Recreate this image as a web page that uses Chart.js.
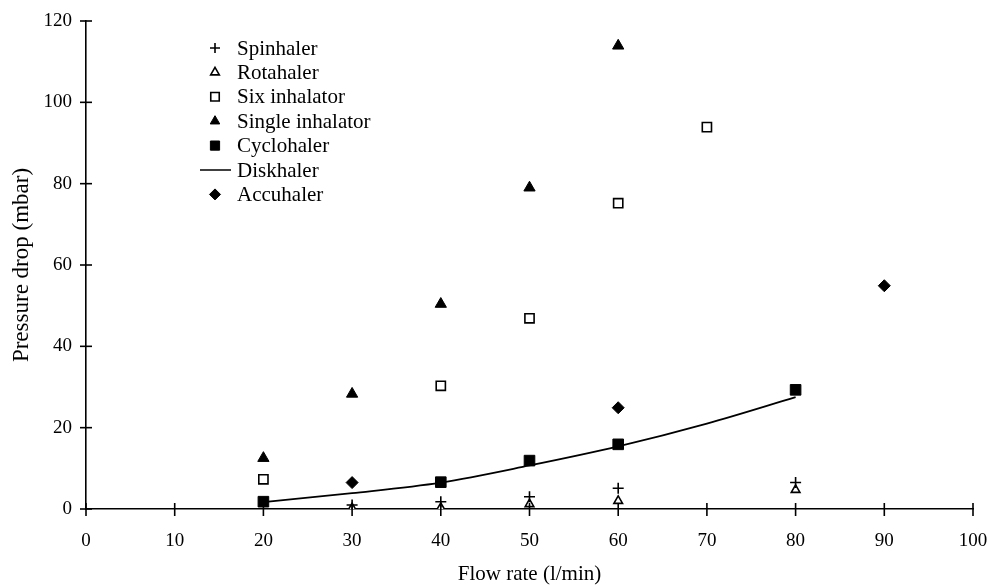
<!DOCTYPE html>
<html>
<head>
<meta charset="utf-8">
<title>Pressure drop vs flow rate</title>
<script src="https://cdn.jsdelivr.net/npm/chart.js@4"></script>
<style>
	html, body { margin: 0; padding: 0; background: #fff; }
	#wrap { width: 989px; height: 586px; position: relative; }
</style>
</head>
<body>
<div id="wrap"><canvas id="chartjs_pressure"></canvas></div>
<script>
// flow rates (l/min) and pressure drops (mbar)
const spinFlow = [30, 40, 50, 60, 80];
const spinDrop = [1.0, 1.8, 3.0, 5.1, 6.5];
const rotaFlow = [30, 40, 50, 60, 80];
const rotaDrop = [0.2, 0.3, 1.2, 2.0, 4.7];
const sixFlow = [20, 40, 50, 60, 70];
const sixDrop = [7.3, 30.3, 46.9, 75.2, 93.9];
const singleFlow = [20, 30, 40, 50, 60];
const singleDrop = [12.5, 28.3, 50.4, 79.0, 113.9];
const cycloFlow = [20, 40, 50, 60, 80];
const cycloDrop = [1.8, 6.6, 11.9, 15.9, 29.3];
const diskFlow = [20, 30, 40, 50, 60, 70, 80];
const diskDrop = [1.7, 3.9, 6.5, 10.7, 15.4, 21.0, 27.5];
const accuFlow = [30, 60, 90];
const accuDrop = [6.5, 24.9, 54.9];

const xTicks = [0, 10, 20, 30, 40, 50, 60, 70, 80, 90, 100];
const yTicks = [0, 20, 40, 60, 80, 100, 120];

const serif = "'Liberation Serif', 'DejaVu Serif', serif";

function pts(xs, ys) {
	return xs.map((x, i) => ({ x: x, y: ys[i] }));
}

// tick marks that cross the axis line on both sides
const crossTicks = {
	id: 'crossTicks',
	afterDraw(chart) {
		const ctx = chart.ctx;
		const xs = chart.scales.x;
		const ys = chart.scales.y;
		const x0 = xs.getPixelForValue(0);
		const y0 = ys.getPixelForValue(0);
		ctx.save();
		ctx.strokeStyle = '#000';
		ctx.lineWidth = 1.6;
		xTicks.forEach((v) => {
			const px = xs.getPixelForValue(v);
			ctx.beginPath();
			ctx.moveTo(px, y0 - 6);
			ctx.lineTo(px, y0 + 7);
			ctx.stroke();
		});
		yTicks.forEach((v) => {
			const py = ys.getPixelForValue(v);
			ctx.beginPath();
			ctx.moveTo(x0 - 6, py);
			ctx.lineTo(x0 + 6, py);
			ctx.stroke();
		});
		ctx.restore();
	}
};

// legend sitting inside the plot, top left
const innerLegend = {
	id: 'innerLegend',
	afterDraw(chart) {
		const ctx = chart.ctx;
		const mx = 215, tx = 237, top = 48, step = 24.4;
		ctx.save();
		ctx.font = '21px ' + serif;
		ctx.textBaseline = 'middle';
		chart.data.datasets.forEach((ds, i) => {
			const y = top + i * step;
			ctx.fillStyle = '#000';
			ctx.fillText(ds.label, tx, y + 1);
			if (ds.type === 'line') {
				ctx.strokeStyle = '#000';
				ctx.lineWidth = 1.5;
				ctx.beginPath();
				ctx.moveTo(200, y);
				ctx.lineTo(231, y);
				ctx.stroke();
				return;
			}
			ctx.fillStyle = ds.pointBackgroundColor;
			ctx.strokeStyle = ds.pointBorderColor;
			ctx.lineWidth = ds.pointBorderWidth;
			Chart.helpers.drawPoint(ctx, {
				pointStyle: ds.pointStyle,
				radius: ds.legendRadius,
				rotation: 0,
				borderWidth: ds.pointBorderWidth
			}, mx, y);
		});
		ctx.restore();
	}
};

document.addEventListener("DOMContentLoaded", function () {
	new Chart(document.getElementById("chartjs_pressure"), {
		type: 'scatter',
		data: {
			datasets: [
				{
					label: 'Spinhaler',
					data: pts(spinFlow, spinDrop),
					pointStyle: 'cross',
					pointRadius: 5.5,
					legendRadius: 5,
					pointBackgroundColor: '#000',
					pointBorderColor: '#000',
					pointBorderWidth: 1.6
				},
				{
					label: 'Rotahaler',
					data: pts(rotaFlow, rotaDrop),
					pointStyle: 'triangle',
					pointRadius: 5,
					legendRadius: 5,
					pointBackgroundColor: '#fff',
					pointBorderColor: '#000',
					pointBorderWidth: 1.6
				},
				{
					label: 'Six inhalator',
					data: pts(sixFlow, sixDrop),
					pointStyle: 'rect',
					pointRadius: 6.5,
					legendRadius: 6,
					pointBackgroundColor: '#fff',
					pointBorderColor: '#000',
					pointBorderWidth: 1.6
				},
				{
					label: 'Single inhalator',
					data: pts(singleFlow, singleDrop),
					pointStyle: 'triangle',
					pointRadius: 6.5,
					legendRadius: 5.5,
					pointBackgroundColor: '#000',
					pointBorderColor: '#000',
					pointBorderWidth: 1
				},
				{
					label: 'Cyclohaler',
					data: pts(cycloFlow, cycloDrop),
					pointStyle: 'rect',
					pointRadius: 7.5,
					legendRadius: 6.5,
					pointBackgroundColor: '#000',
					pointBorderColor: '#000',
					pointBorderWidth: 1
				},
				{
					type: 'line',
					label: 'Diskhaler',
					data: pts(diskFlow, diskDrop),
					showLine: true,
					borderColor: '#000',
					borderWidth: 1.8,
					pointRadius: 0,
					cubicInterpolationMode: 'monotone',
					fill: false
				},
				{
					label: 'Accuhaler',
					data: pts(accuFlow, accuDrop),
					pointStyle: 'rectRot',
					pointRadius: 6,
					legendRadius: 5.5,
					pointBackgroundColor: '#000',
					pointBorderColor: '#000',
					pointBorderWidth: 1
				}
			]
		},
		options: {
			responsive: true,
			maintainAspectRatio: false,
			animation: false,
			layout: {
				padding: { left: 0, right: 16, top: 21, bottom: 0 }
			},
			plugins: {
				legend: { display: false },
				tooltip: { enabled: false }
			},
			scales: {
				x: {
					type: 'linear',
					min: 0,
					max: 100,
					afterFit: (s) => {
						s.height = 77;
						s.paddingLeft = 0;
						s.paddingRight = 0;
					},
					afterBuildTicks: (s) => { s.ticks = xTicks.map((v) => ({ value: v })); },
					grid: { display: false, drawTicks: false },
					border: { display: true, color: '#000', width: 1.6 },
					ticks: {
						color: '#000',
						padding: 21,
						font: { family: serif, size: 19 }
					},
					title: {
						display: true,
						text: 'Flow rate (l/min)',
						color: '#000',
						font: { family: serif, size: 21, lineHeight: 1.05 },
						padding: { top: 0, bottom: 0 }
					}
				},
				y: {
					type: 'linear',
					min: 0,
					max: 120,
					afterFit: (s) => {
						s.width = 86;
						s.paddingTop = 0;
						s.paddingBottom = 0;
					},
					afterBuildTicks: (s) => { s.ticks = yTicks.map((v) => ({ value: v })); },
					grid: { display: false, drawTicks: false },
					border: { display: true, color: '#000', width: 1.6 },
					ticks: {
						color: '#000',
						padding: 14,
						font: { family: serif, size: 19 }
					},
					title: {
						display: true,
						text: 'Pressure drop (mbar)',
						color: '#000',
						font: { family: serif, size: 23 },
						padding: { top: 8, bottom: 0 }
					}
				}
			}
		},
		plugins: [crossTicks, innerLegend]
	});
});
</script>
</body>
</html>
